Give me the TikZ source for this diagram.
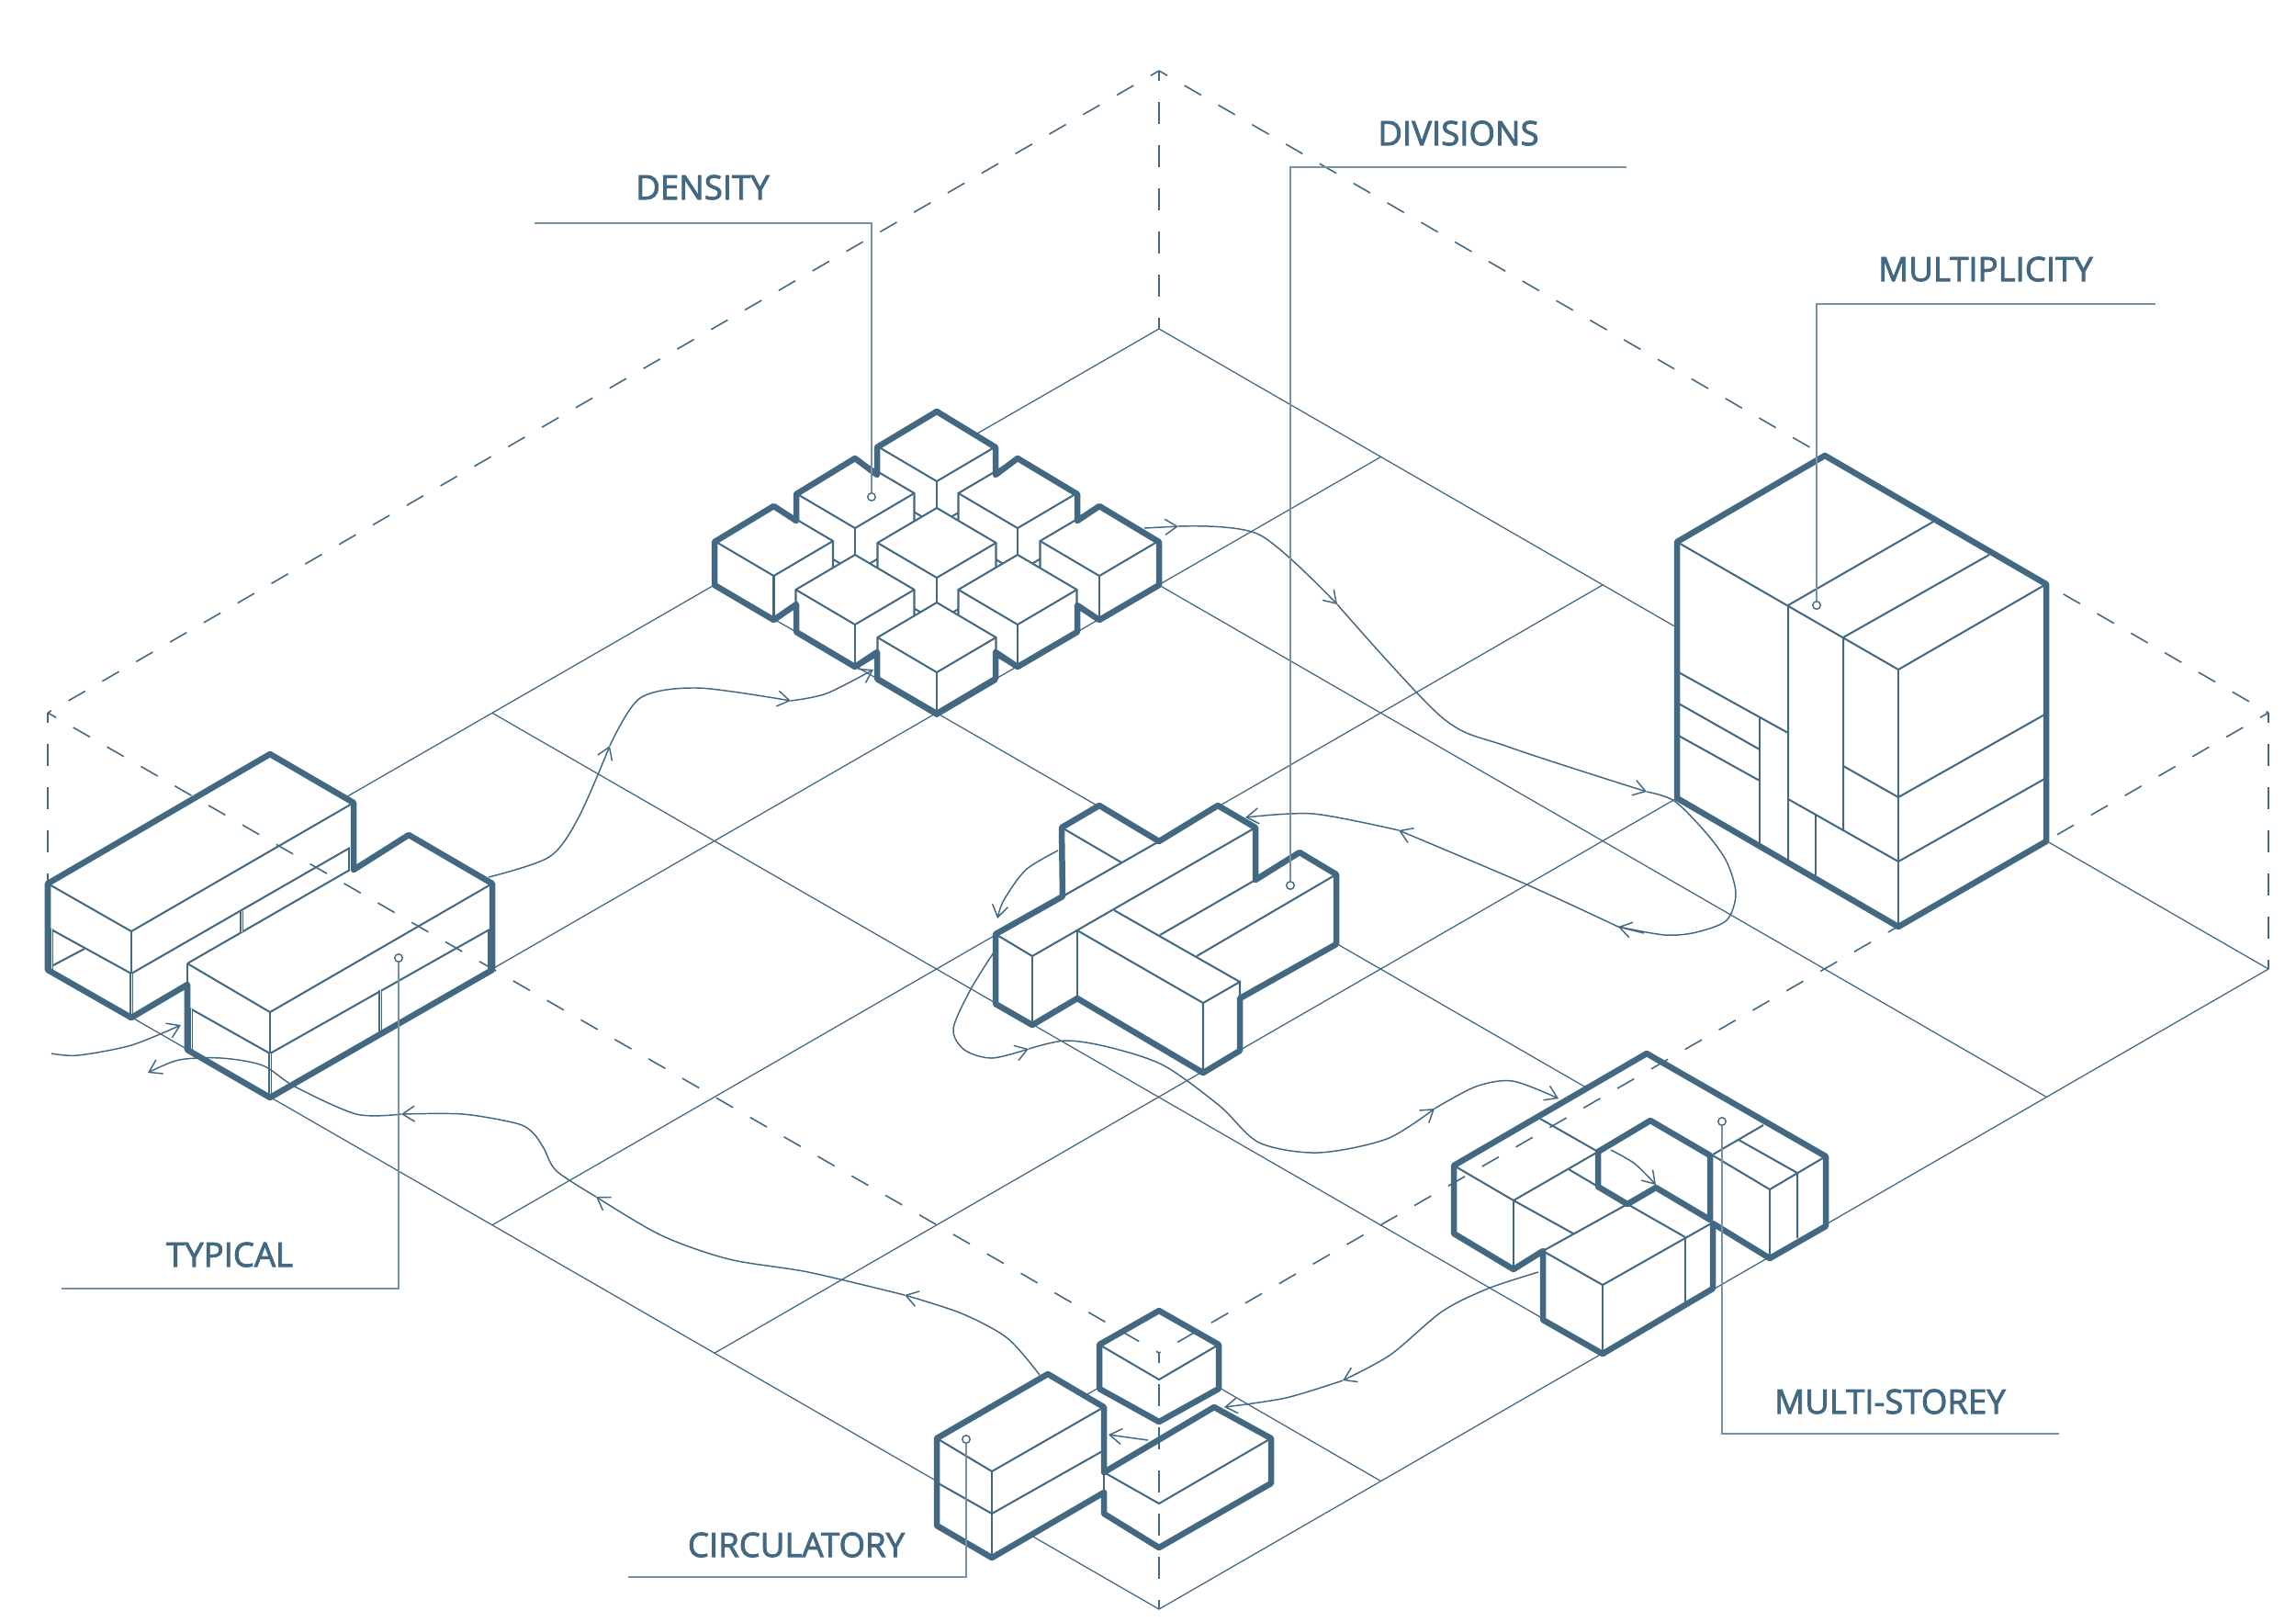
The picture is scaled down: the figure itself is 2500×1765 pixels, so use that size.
\documentclass[tikz,border=0pt]{standalone}
\usepackage{fontspec}
\newfontfamily\tagfont{Open Sans}[FakeBold=2.4]
\usetikzlibrary{arrows.meta,calc}
\definecolor{slate}{HTML}{436882}
\tikzset{
  floorline/.style={draw=slate, line width=0.36pt},
  wallline/.style={draw=slate, line width=0.45pt, dash pattern=on 0.21cm off 0.215cm, dash phase=0.105cm},
  wallpost/.style={draw=slate, line width=0.45pt, dash pattern=on 0.24cm off 0.23cm, dash phase=0.13cm},
  thinedge/.style={draw=slate, line width=0.58pt},
  thickedge/.style={draw=slate, line width=1.85pt, line join=round, line cap=round},
  pillar/.style={draw=slate, line width=0.55pt, double=white, double distance=0.25pt},
  flow/.style={draw=slate, line width=0.42pt, -{Straight Barb[length=1.3mm,width=1.7mm]}},
  flowend/.style={draw=slate, line width=0.42pt},
  leader/.style={draw=slate!72, line width=0.55pt},
  pinhole/.style={circle, draw=slate, line width=0.4pt, fill=white, inner sep=0pt, minimum size=0.085cm},
  tag/.style={text=slate, font=\tagfont\fontsize{10.4}{12}\selectfont}
}
\begin{document}
\begin{tikzpicture}[x=0.01cm, y=-0.01cm]
  \useasboundingbox (0,0) rectangle (2500,1765);
  \coordinate (left) at (52,1055);
  \coordinate (back) at (1262,358);
  \coordinate (right) at (2470,1055);
  \coordinate (front) at (1262,1752);
  \coordinate (backtop) at (1262,77);
  \coordinate (lefttop) at (52,776);
  \coordinate (righttop) at (2470,776);
  \coordinate (fronttop) at (1262,1473);
  \draw[floorline] (left) -- (back) -- (right) -- (front) -- cycle;
  \foreach \k in {2,3,4} {
    \draw[floorline] ($(left)!\k/5!(back)$) -- ($(front)!\k/5!(right)$);
  }
  \foreach \k in {1,2,3} {
    \draw[floorline] ($(back)!\k/5!(right)$) -- ($(left)!\k/5!(front)$);
  }
  \draw[floorline] (fronttop) -- ($(front)!0.2!(right)$);
  \draw[floorline] (fronttop) -- ($(left)!0.8!(front)$);

  % typical
  \fill[white] (294,821) -- (385,874) -- (385,947) -- (445,909) -- (536,962) -- (536,1056) -- (294,1195) -- (204,1143) -- (204,1072) -- (143,1108) -- (52,1056) -- (52,962) -- cycle;
  \draw[thinedge] (52,962) -- (143,1014) -- (385,874);
  \draw[thinedge] (143,1014) -- (143,1060);
  \draw[thinedge] (54,1011) -- (143,1060) -- (381,923);
  \draw[thinedge] (54,1053) -- (92,1033);
  \draw[thinedge] (204,1049) -- (381,947);
  \draw[thinedge] (204,1049) -- (294,1102) -- (536,962);
  \draw[thinedge] (204,1049) -- (204,1072);
  \draw[thinedge] (294,1102) -- (294,1147);
  \draw[thinedge] (207,1098) -- (294,1147) -- (533,1012);
  \draw[pillar] (143,1060) -- (143,1106);
  \draw[pillar] (56,1011) -- (56,1056);
  \draw[pillar] (381,923) -- (381,947);
  \draw[pillar] (263,992) -- (263,1015);
  \draw[pillar] (294,1147) -- (294,1193);
  \draw[pillar] (533,1012) -- (533,1056);
  \draw[pillar] (208,1098) -- (208,1143);
  \draw[pillar] (414,1078) -- (414,1125);
  \draw[thickedge] (294,821) -- (385,874) -- (385,947) -- (445,909) -- (536,962) -- (536,1056) -- (294,1195) -- (204,1143) -- (204,1072) -- (143,1108) -- (52,1056) -- (52,962) -- cycle;

  % density
  \foreach \cx/\cy in {1020/448, 931/499, 1108/499, 842.5/551, 1020/553, 1197/551, 931/604, 1108/604, 1020/656} {
    \fill[white] (\cx,\cy) -- ++(64.5,38) -- ++(0,48) -- ++(-64.5,38) -- ++(-64.5,-38) -- ++(0,-48) -- cycle;
    \draw[thinedge] (\cx,\cy) -- ++(64.5,38) -- ++(0,48) -- ++(-64.5,38) -- ++(-64.5,-38) -- ++(0,-48) -- cycle;
    \draw[thinedge] (\cx-64.5,\cy+38) -- ++(64.5,38) -- ++(64.5,-38);
    \draw[thinedge] (\cx,\cy+76) -- ++(0,48);
  }
  \draw[thickedge] (1020,448) -- (1084,487) -- (1084,517) -- (1108,499) -- (1173,538) -- (1173,567) -- (1197,551) -- (1262,590) -- (1262,637) -- (1197,675) -- (1173,659) -- (1173,688) -- (1108,726) -- (1084,710) -- (1084,739) -- (1020,777) -- (955,739) -- (955,710) -- (931,726) -- (867,688) -- (867,658) -- (842.5,675) -- (778,637) -- (778,590) -- (842.5,551) -- (867,567) -- (867,538) -- (931,499) -- (955,517) -- (955,487) -- cycle;

  % multiplicity
  \fill[white] (1987,496) -- (2228,636) -- (2228,916) -- (2067,1009) -- (1826,869) -- (1826,590) -- cycle;
  \draw[thinedge] (1826,590) -- (2067,729) -- (2228,636);
  \draw[thinedge] (2105,568) -- (1947,659) -- (1947,936);
  \draw[thinedge] (2166,604) -- (2007,694) -- (2007,904);
  \draw[thinedge] (2067,729) -- (2067,1009);
  \draw[thinedge] (1826,731) -- (1947,798);
  \draw[thinedge] (1826,765) -- (1916,816);
  \draw[thinedge] (1826,800) -- (1916,850);
  \draw[thinedge] (1916,782) -- (1916,918);
  \draw[thinedge] (1947,870) -- (2067,938) -- (2228,847);
  \draw[thinedge] (1977,886) -- (1977,954);
  \draw[thinedge] (2007,834) -- (2067,868) -- (2228,777);
  \draw[thickedge] (1987,496) -- (2228,636) -- (2228,916) -- (2067,1009) -- (1826,869) -- (1826,590) -- cycle;

  % divisions
  \fill[white] (1156,901) -- (1197,877) -- (1262,916) -- (1326,877) -- (1367,901) -- (1367,958) -- (1415,928) -- (1455,952) -- (1455,1028) -- (1350,1087) -- (1350,1144) -- (1310,1168) -- (1173,1087) -- (1124,1116) -- (1084,1093) -- (1084,1017) -- (1157,976) -- cycle;
  \draw[thinedge] (1084,1017) -- (1124,1041) -- (1367,901);
  \draw[thinedge] (1124,1041) -- (1124,1116);
  \draw[thinedge] (1173,1013) -- (1173,1087);
  \draw[thinedge] (1173,1013) -- (1310,1092) -- (1310,1168);
  \draw[thinedge] (1310,1092) -- (1350,1069) -- (1350,1087);
  \draw[thinedge] (1213,991) -- (1350,1069);
  \draw[thinedge] (1263,1018) -- (1367,958);
  \draw[thinedge] (1303,1041) -- (1455,952);
  \draw[thinedge] (1156,901) -- (1221,939);
  \draw[thinedge] (1157,976) -- (1262,916);
  \draw[thickedge] (1157,976) -- (1156,901) -- (1197,877) -- (1262,916) -- (1326,877) -- (1367,901) -- (1367,958) -- (1415,928) -- (1455,952) -- (1455,1028) -- (1350,1087) -- (1350,1144) -- (1310,1168) -- (1173,1087) -- (1124,1116) -- (1084,1093) -- (1084,1017) -- cycle;

  % multi-storey
  \fill[white] (1793,1147) -- (1988,1259) -- (1988,1335) -- (1927,1370) -- (1865,1332) -- (1865,1403) -- (1745,1474) -- (1680,1437) -- (1680,1362) -- (1648,1382) -- (1583,1343) -- (1583,1269) -- cycle;
  \draw[thinedge] (1583,1269) -- (1648,1307) -- (1713,1343);
  \draw[thinedge] (1648,1307) -- (1648,1382);
  \draw[thinedge] (1648,1307) -- (1740,1254);
  \draw[thinedge] (1677,1218) -- (1740,1254);
  \draw[thinedge] (1708,1273) -- (1740,1292);
  \draw[thinedge] (1772,1311) -- (1835,1347);
  \draw[thinedge] (1772,1311) -- (1680,1362) -- (1745,1399);
  \draw[thinedge] (1745,1399) -- (1745,1474);
  \draw[thinedge] (1745,1399) -- (1865,1331);
  \draw[thinedge] (1835,1347) -- (1835,1420);
  \draw[thinedge] (1865,1257) -- (1920,1225);
  \draw[thinedge] (1865,1258) -- (1927,1295) -- (1927,1370);
  \draw[thinedge] (1927,1295) -- (1988,1259);
  \draw[thinedge] (1893,1241) -- (1957,1277) -- (1957,1348);
  \draw[thickedge] (1793,1147) -- (1988,1259) -- (1988,1335) -- (1927,1370) -- (1865,1332) -- (1865,1403) -- (1745,1474) -- (1680,1437) -- (1680,1362) -- (1648,1382) -- (1583,1343) -- (1583,1269) -- cycle;
  \draw[thickedge] (1797,1220) -- (1862,1258) -- (1862,1328) -- (1803,1293) -- (1772,1311) -- (1740,1292) -- (1740,1254) -- cycle;

  % circulatory
  \fill[white] (1262,1427) -- (1327,1464) -- (1327,1512) -- (1262,1548) -- (1197,1512) -- (1197,1464) -- cycle;
  \draw[thinedge] (1197,1464) -- (1262,1502) -- (1327,1464);
  \draw[thickedge] (1262,1427) -- (1327,1464) -- (1327,1512) -- (1262,1548) -- (1197,1512) -- (1197,1464) -- cycle;
  \fill[white] (1322,1532) -- (1384,1566) -- (1384,1615) -- (1262,1685) -- (1202,1648) -- (1202,1603) -- cycle;
  \draw[thinedge] (1202,1603) -- (1262,1637) -- (1384,1566);
  \draw[thickedge] (1202,1603) -- (1322,1532) -- (1384,1566) -- (1384,1615) -- (1262,1685) -- (1202,1648) -- (1202,1625);
  \fill[white] (1141,1496) -- (1202,1532) -- (1202,1625) -- (1080,1696) -- (1020,1661) -- (1020,1566) -- cycle;
  \draw[thinedge] (1020,1566) -- (1080,1602) -- (1202,1532);
  \draw[thinedge] (1080,1602) -- (1080,1696);
  \draw[thinedge] (1020,1614) -- (1080,1648) -- (1202,1579);
  \draw[thinedge] (1202,1603) -- (1202,1625);
  \draw[thickedge] (1202,1625) -- (1080,1696) -- (1020,1661) -- (1020,1566) -- (1141,1496) -- (1202,1532) -- (1202,1603);

  \draw[wallline] (backtop) -- (lefttop);
  \draw[wallline] (backtop) -- (righttop);
  \draw[wallline] (lefttop) -- (fronttop);
  \draw[wallline] (righttop) -- (fronttop);
  \draw[wallpost] (backtop) -- (back);
  \draw[wallpost] (lefttop) -- (52,962);
  \draw[wallpost] (righttop) -- (right);
  \draw[wallpost] (fronttop) -- (front);

  % flows
  \draw[flow] plot[smooth] coordinates {(532,955) (598,933) (630,890) (664,812)};
  \draw[flow] plot[smooth] coordinates {(664,812) (697,760) (760,749) (861,763)};
  \draw[flow] plot[smooth] coordinates {(861,763) (900,755) (951,729)};
  \draw[flow] plot[smooth] coordinates {(1246,575) (1283,573)};
  \draw[flow] plot[smooth] coordinates {(1283,573) (1371,582) (1456,658)};
  \draw[flow] plot[smooth] coordinates {(1456,658) (1570,781) (1642,813) (1793,862)};
  \draw[flowend] plot[smooth] coordinates {(1793,862) (1823,872) (1857,906) (1880,938) (1890,973) (1880,1002) (1847,1015) (1813,1018) (1762,1009)};
  \draw[flow] plot[smooth] coordinates {(1790,1016) (1762,1009)};
  \draw[flow] plot[smooth] coordinates {(1762,1009) (1660,962) (1523,904)};
  \draw[flow] plot[smooth] coordinates {(1523,904) (1430,886) (1356,890)};
  \draw[flow] plot[smooth] coordinates {(1152,926) (1117,947) (1093,980) (1086,1000)};
  \draw[flow] plot[smooth] coordinates {(1082,1037) (1057,1077) (1038,1120) (1050,1143) (1080,1152) (1120,1142)};
  \draw[flow] plot[smooth] coordinates {(1120,1142) (1160,1133) (1207,1140) (1267,1160) (1328,1204) (1371,1244) (1435,1255) (1510,1240) (1562,1207)};
  \draw[flow] plot[smooth] coordinates {(1562,1207) (1607,1183) (1647,1177) (1697,1196)};
  \draw[flow] plot[smooth] coordinates {(1754,1252) (1780,1267) (1803,1290)};
  \draw[flow] plot[smooth] coordinates {(1675,1385) (1620,1403) (1570,1428) (1514,1475) (1462,1503)};
  \draw[flow] plot[smooth] coordinates {(1462,1503) (1400,1522) (1333,1532)};
  \draw[flow] plot[smooth] coordinates {(1250,1568) (1207,1562)};
  \draw[flow] plot[smooth] coordinates {(1132,1497) (1097,1457) (1047,1430) (985,1410)};
  \draw[flow] plot[smooth] coordinates {(985,1410) (880,1385) (794,1371) (720,1345) (649,1303)};
  \draw[flow] plot[smooth] coordinates {(649,1303) (606,1275) (592,1250) (580,1233) (562,1223) (504,1213) (437,1213)};
  \draw[flow] plot[smooth] coordinates {(437,1213) (388,1213) (321,1183) (286,1160) (241,1152) (195,1154) (161,1168)};
  \draw[flow] plot[smooth] coordinates {(56,1147) (85,1149) (143,1138) (197,1116)};

  % labels
  \node[pinhole] (densitypin) at (949,541) {};
  \node[pinhole] (divisionspin) at (1405,964) {};
  \node[pinhole] (multiplicitypin) at (1978,659) {};
  \node[pinhole] (typicalpin) at (434,1043) {};
  \node[pinhole] (storeypin) at (1875,1221) {};
  \node[pinhole] (circulatorypin) at (1052,1567) {};
  \coordinate (densityend) at (582,243);
  \coordinate (divisionsend) at (1771,182);
  \coordinate (multiplicityend) at (2347,331);
  \coordinate (typicalend) at (67,1403);
  \coordinate (storeyend) at (2242,1561);
  \coordinate (circulatoryend) at (684,1717);
  \draw[leader] (densityend) -| (densitypin);
  \draw[leader] (divisionsend) -| (divisionspin);
  \draw[leader] (multiplicityend) -| (multiplicitypin);
  \draw[leader] (typicalend) -| (typicalpin);
  \draw[leader] (storeyend) -| (storeypin);
  \draw[leader] (circulatoryend) -| (circulatorypin);
  \node[tag] (density) at (765,204) {DENSITY};
  \node[tag] (divisions) at (1588,145) {DIVISIONS};
  \node[tag] (multiplicity) at (2162,293) {MULTIPLICITY};
  \node[tag] (typical) at (250,1366) {TYPICAL};
  \node[tag] (storey) at (2058,1526) {MULTI-STOREY};
  \node[tag] (circulatory) at (867,1682) {CIRCULATORY};
\end{tikzpicture}
\end{document}
